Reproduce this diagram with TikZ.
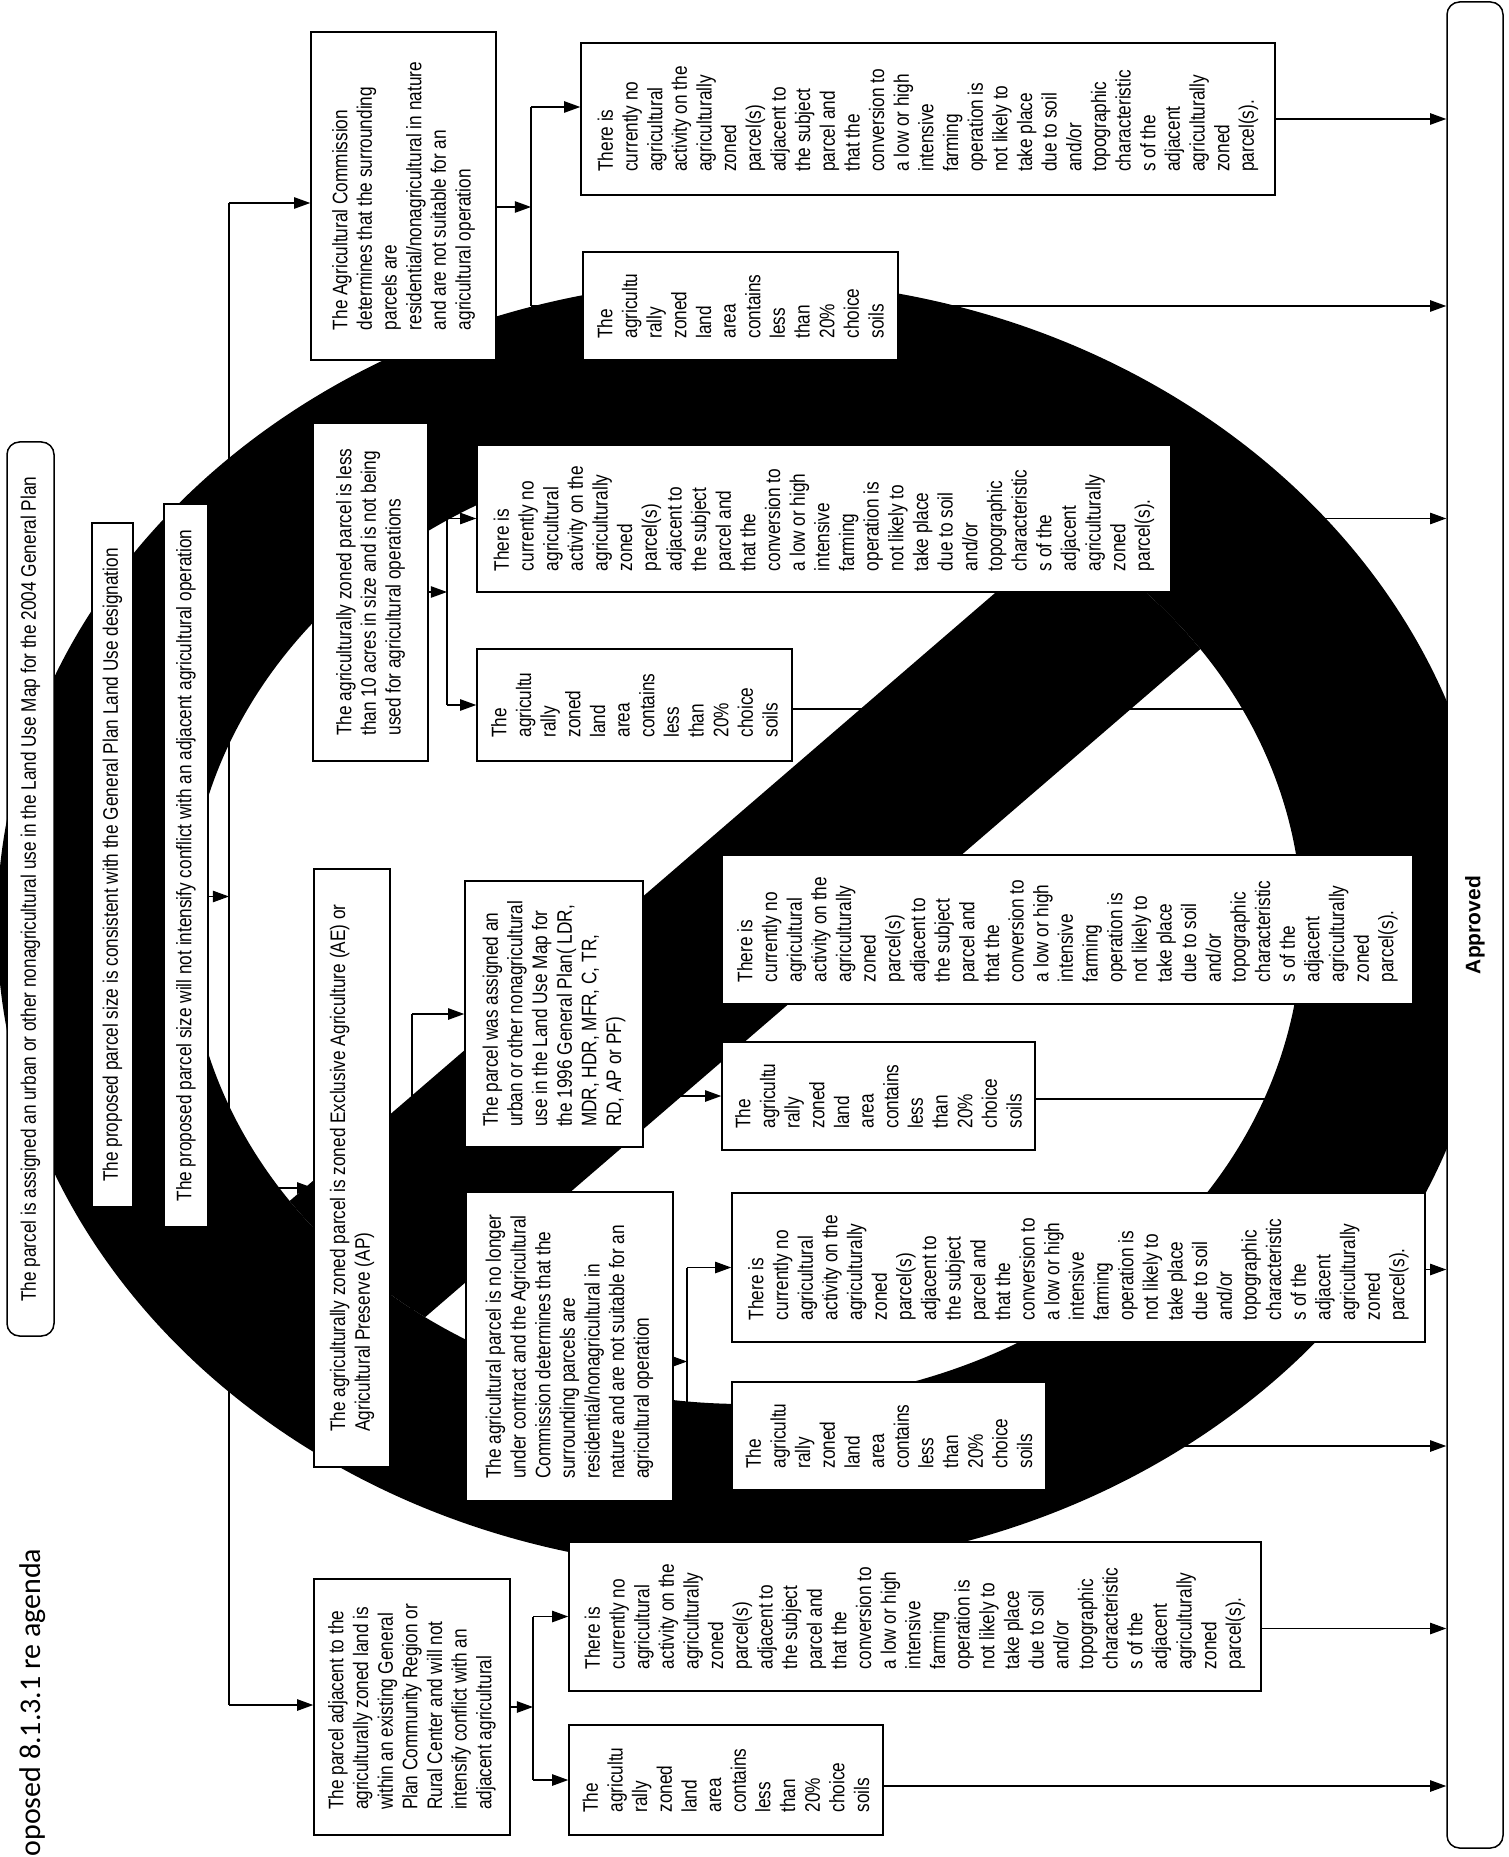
\documentclass[tikz,border=0pt]{standalone}
\usepackage{fontspec}
\setmainfont{Liberation Sans}[FakeStretch=0.82]
\newfontfamily\apfont{Liberation Sans}
\newfontfamily\titlefont{Carlito}
\usetikzlibrary{arrows.meta,calc}
\pgfdeclarelayer{bg}
\pgfdeclarelayer{mid}
\pgfsetlayers{bg,mid,main}
\newcommand{\tctext}{There is\\currently no\\agricultural\\activity on the\\agriculturally\\zoned\\parcel(s)\\adjacent to\\the subject\\parcel and\\that the\\conversion to\\a low or high\\intensive\\farming\\operation is\\not likely to\\take place\\due to soil\\and/or\\topographic\\characteristic\\s of the\\adjacent\\agriculturally\\zoned\\parcel(s).}
\newcommand{\soiltext}{The\\agricultu\\rally\\zoned\\land\\area\\contains\\less\\than\\20\%\\choice\\soils}
\begin{document}
\begin{tikzpicture}[x=0.4pt,y=-0.4pt,
  box/.style={draw=black, line width=0.6pt, fill=white, rotate=90, inner sep=0pt, align=left, font={\fontsize{8.4}{9.86}\selectfont}},
  sz/.style 2 args={minimum height=#1*0.4pt, minimum width=#2*0.4pt},
  conn/.style={draw=black, line width=0.5pt},
  arr/.style={conn, -{Triangle[length=6.5pt,width=4.6pt]}}]
\useasboundingbox (0,0) rectangle (1508,1857);

% boxes
\node[box, sz={47}{894}, rounded corners=5pt] (B1) at (30.5,889) {The parcel is assigned an urban or other nonagricultural use in the Land Use Map for the 2004 General Plan};
\node[box, sz={41}{684}] (B2) at (112.5,865) {The proposed parcel size is consistent with the General Plan Land Use designation};
\node[box, sz={44}{723}] (B3) at (186,865.5) {The proposed parcel size will not intensify conflict with an adjacent agricultural operation};
\node[box, sz={185}{328}] (AgC) at (403.5,196) {The Agricultural Commission\\determines that the surrounding\\parcels are\\residential/nonagricultural in nature\\and are not suitable for an\\agricultural operation};
\node[box, sz={694}{152}] (TC1) at (928,119) {\tctext};
\node[box, sz={315}{108}] (A1) at (740.5,306) {\soiltext};
\node[box, sz={115}{338}] (L10) at (370.5,592) {The agriculturally zoned parcel is less\\than 10 acres in size and is not being\\used for agricultural operations};
\node[box, sz={694}{147}] (TC2) at (824,518.5) {\tctext};
\node[box, sz={315}{112}] (A2) at (634.5,705) {\soiltext};
\node[box, sz={76}{598}] (AE) at (352,1168) {The agriculturally zoned parcel is zoned Exclusive Agriculture (AE) or\\Agricultural Preserve (AP)};
\node[box, sz={178}{266}] (P96) at (554,1014) {The parcel was assigned an\\urban or other nonagricultural\\use in the Land Use Map for\\the 1996 General Plan( LDR,\\MDR, HDR, MFR, C, TR,\\RD, AP or PF)};
\node[box, sz={691}{149}] (TC3) at (1067.5,929.5) {\tctext};
\node[box, sz={313}{108}] (A3) at (878.5,1096) {\soiltext};
\node[box, sz={207}{309}] (NL) at (569.5,1346.5) {The agricultural parcel is no longer\\under contract and the Agricultural\\Commission determines that the\\surrounding parcels are\\residential/nonagricultural in\\nature and are not suitable for an\\agricultural operation};
\node[box, sz={693}{149}] (TC4) at (1078.5,1267.5) {\tctext};
\node[box, sz={314}{108}] (A4) at (889,1436) {\soiltext};
\node[box, sz={196}{256}] (PA) at (412,1707) {The parcel adjacent to the\\agriculturally zoned land is\\within an existing General\\Plan Community Region or\\Rural Center and will not\\intensify conflict with an\\adjacent agricultural};
\node[box, sz={692}{149}] (TC5) at (915,1616.5) {\tctext};
\node[box, sz={314}{110}] (A5) at (726,1780) {\soiltext};
\node[box, sz={56}{1846}, rounded corners=5pt, font={\apfont\bfseries\fontsize{8.4}{10}\selectfont}] (Ap) at (1475,925) {Approved};
\node[rotate=90, anchor=west, inner sep=0pt, font={\titlefont\fontsize{12}{14}\selectfont}] (title) at (33,1857) {oposed 8.1.3.1 re agenda};

% connector coordinates
\coordinate (bustop) at (229,203);
\coordinate (busbot) at (229,1705);
\coordinate (aein) at (229,1188);
\coordinate (b3out) at ($(B3.south)+(0,31)$);
\coordinate (j1) at (531,0);
\coordinate (j2) at (447,0);
\coordinate (j3) at (412,0);
\coordinate (j4) at (675,0);
\coordinate (j5) at (687,0);
\coordinate (j6) at (533,0);

\begin{pgfonlayer}{bg}
\draw[conn] (bustop) -- (busbot);
\draw[arr] (b3out) -- (b3out -| bustop);
\draw[arr] (bustop) -- (bustop -| AgC.north);
\draw[arr] (L10.north -| bustop) -- (L10.north);
\draw[arr] (aein) -- (aein -| AE.north);
\draw[arr] (busbot) -- (busbot -| PA.north);
\foreach \d/\t/\a/\j/\od/\ot in {AgC/TC1/A1/j1/11/-12, L10/TC2/A2/j2/0/0, AE/P96/NL/j3/0/0, P96/TC3/A3/j4/0/0, NL/TC4/A4/j5/15/0, PA/TC5/A5/j6/0/0}{
  \coordinate (dout) at ($(\d.south)+(0,\od)$);
  \coordinate (tin) at ($(\t.north)+(0,\ot)$);
  \draw[arr] (dout) -- (dout -| \j);
  \draw[conn] (tin -| \j) -- (\a.north -| \j);
  \draw[arr] (tin -| \j) -- (tin);
  \draw[arr] (\a.north -| \j) -- (\a.north);
}
\foreach \t/\o in {TC1/0,A1/0,TC2/0,A2/4,TC3/0,A3/3,TC4/2,A4/10,TC5/12,A5/6}{
  \coordinate (tout) at ($(\t.south)+(0,\o)$);
  \draw[arr] (tout) -- (tout -| Ap.north);
}
\end{pgfonlayer}

% prohibition symbol
\begin{pgfonlayer}{mid}
\begin{scope}[shift={(745,925)}]
  \fill[black, even odd rule] (0,0) ellipse [x radius=748, y radius=645] (0,0) ellipse [x radius=557, y radius=479];
  \begin{scope}
    \clip (0,0) ellipse [x radius=557, y radius=479];
    \fill[black] (-800,806) -- (800,-573) -- (800,-806) -- (-800,573) -- cycle;
  \end{scope}
\end{scope}
\end{pgfonlayer}
\end{tikzpicture}
\end{document}
